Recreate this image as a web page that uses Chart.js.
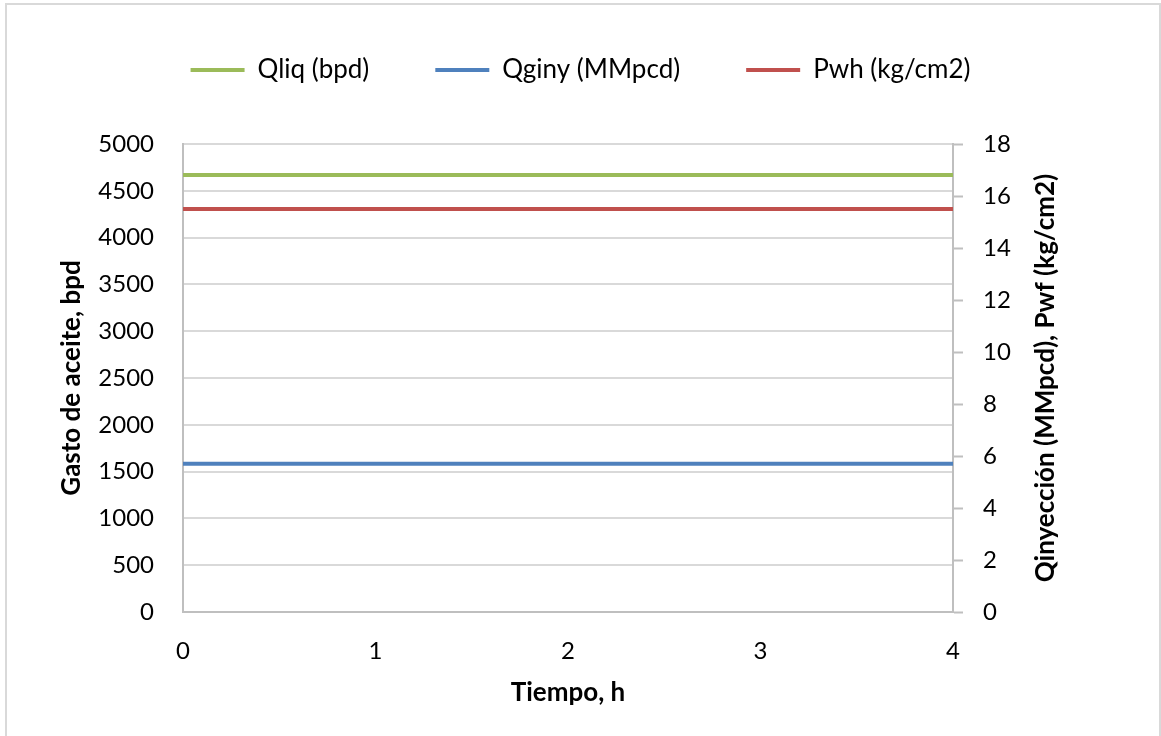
<!DOCTYPE html>
<html>
<head>
<meta charset="utf-8">
<script src="https://cdn.jsdelivr.net/npm/chart.js@4/dist/chart.umd.min.js"></script>
<style>
  body { margin: 0; background: #fff; }
  #wrap { position: relative; width: 1161px; height: 736px; }
  #frame { position: absolute; left: 5px; top: 3px; width: 1152px; height: 740px; border: 2px solid #d9d9d9; pointer-events: none; }
</style>
</head>
<body>
<div id="wrap">
  <canvas id="pozoChart" width="1161" height="736"></canvas>
  <div id="frame"></div>
</div>
<script>
// tiempo (h) y series constantes
const tiempo = [0, 1, 2, 3, 4];
const qliq = [4670, 4670, 4670, 4670, 4670];   // bpd, eje izquierdo
const qginy = [5.7, 5.7, 5.7, 5.7, 5.7];       // MMpcd, eje derecho
const pwh = [15.5, 15.5, 15.5, 15.5, 15.5];    // kg/cm2, eje derecho

const seriesNames = ["Qliq (bpd)", "Qginy (MMpcd)", "Pwh (kg/cm2)"];
const rightTitle = "Qinyección (MMpcd), Pwf (kg/cm2)";

Chart.defaults.font.family = "Lato";
Chart.defaults.font.size = 24;
Chart.defaults.color = "#000";

function toPoints(values) {
  return tiempo.map((t, i) => ({ x: t, y: values[i] }));
}

const LEGEND_PAD = 66;

// titulo del eje derecho (se lee de abajo hacia arriba) y leyenda mas arriba
const layoutPlugin = {
  id: "pozoLayout",
  afterLayout(chart) {
    const lg = chart.legend;
    const h = lg.height;
    lg.top = 70 - LEGEND_PAD - 13;
    lg.bottom = lg.top + h;
  },
  afterDraw(chart) {
    const ctx = chart.ctx;
    const area = chart.chartArea;
    const sc = chart.scales.y1;
    ctx.save();
    ctx.translate(sc.right - 115, (area.top + area.bottom) / 2);
    ctx.rotate(-Math.PI / 2);
    ctx.font = "bold 26px Lato";
    ctx.fillStyle = "#000";
    ctx.textAlign = "center";
    ctx.textBaseline = "middle";
    ctx.fillText(rightTitle, 0, 0);
    ctx.restore();
  },
};

const ctx = document.getElementById("pozoChart").getContext("2d");

new Chart(ctx, {
  type: "line",
  data: {
    datasets: [
      {
        label: seriesNames[0],
        data: toPoints(qliq),
        borderColor: "#9bbb59",
        backgroundColor: "#9bbb59",
        yAxisID: "y",
      },
      {
        label: seriesNames[1],
        data: toPoints(qginy),
        borderColor: "#4f81bd",
        backgroundColor: "#4f81bd",
        yAxisID: "y1",
      },
      {
        label: seriesNames[2],
        data: toPoints(pwh),
        borderColor: "#c0504d",
        backgroundColor: "#c0504d",
        yAxisID: "y1",
      },
    ],
  },
  options: {
    responsive: false,
    animation: false,
    layout: { padding: 0 },
    elements: {
      line: { borderWidth: 4, tension: 0 },
      point: { radius: 0 },
    },
    scales: {
      x: {
        type: "linear",
        min: 0,
        max: 4,
        ticks: { stepSize: 1, padding: 25 },
        grid: { display: false, drawTicks: false },
        border: { display: true, color: "#bfbfbf", width: 2 },
        title: {
          display: true,
          text: "Tiempo, h",
          font: { weight: "bold", size: 26 },
          padding: { top: 0, bottom: 28 },
        },
        afterFit: (scale) => {
          scale.height = 124;
        },
      },
      y: {
        position: "left",
        min: 0,
        max: 5000,
        ticks: { stepSize: 500, padding: 29, callback: (v) => String(v) },
        grid: { color: "#d9d9d9", lineWidth: 2, drawTicks: false },
        border: { color: "#bfbfbf", width: 2 },
        title: {
          display: true,
          text: "Gasto de aceite, bpd",
          font: { weight: "bold", size: 26 },
          padding: { top: 56, bottom: 0 },
        },
        afterFit: (scale) => {
          scale.width = 183;
          scale.paddingTop = 144;
        },
      },
      y1: {
        position: "right",
        min: 0,
        max: 18,
        ticks: { stepSize: 2, padding: 20 },
        grid: {
          drawOnChartArea: false,
          drawTicks: true,
          tickLength: 10,
          tickColor: "#bfbfbf",
          tickWidth: 2,
        },
        border: { color: "#bfbfbf", width: 2 },
        afterFit: (scale) => {
          scale.width = 208;
        },
      },
    },
    plugins: {
      legend: {
        position: "top",
        labels: {
          boxWidth: 54,
          boxHeight: 4,
          padding: LEGEND_PAD,
          font: { size: 26 },
          generateLabels: (chart) =>
            Chart.defaults.plugins.legend.labels.generateLabels(chart).map((item) => {
              item.fillStyle = item.strokeStyle;
              item.lineWidth = 0;
              return item;
            }),
        },
      },
      tooltip: { enabled: false },
    },
  },
  plugins: [layoutPlugin],
});
</script>
</body>
</html>
